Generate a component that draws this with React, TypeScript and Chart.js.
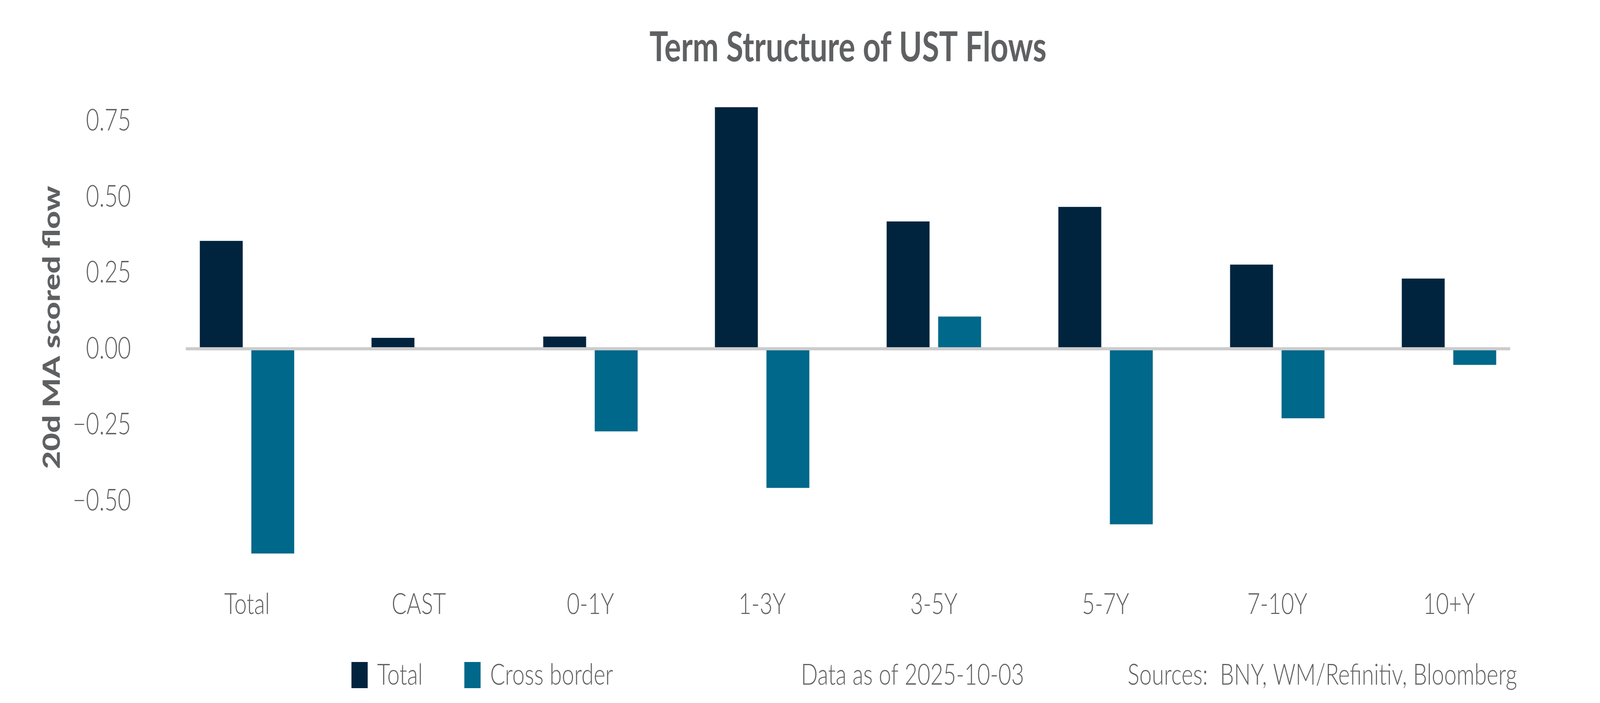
import React, { useEffect, useRef } from 'react';
import { Chart, registerables } from 'chart.js';

Chart.register(...registerables);

const categories = ['Total', 'CAST', '0-1Y', '1-3Y', '3-5Y', '5-7Y', '7-10Y', '10+Y'];
const totalFlow = [0.355, 0.036, 0.04, 0.795, 0.419, 0.467, 0.277, 0.231];
const crossBorderFlow = [-0.674, null, -0.272, -0.458, 0.106, -0.578, -0.229, -0.053];
const yTicks = [-0.5, -0.25, 0, 0.25, 0.5, 0.75];
const seriesLabels = ['Total', 'Cross border'];
const seriesColors = ['#00243e', '#00688a'];
const titleText = 'Term Structure of UST Flows';
const yTitleText = '20d MA scored flow';
const dataNote = 'Data as of 2025-10-03';
const sourceNote = 'Sources:  BNY, WM/Refinitiv, Bloomberg';

const GRAY = '#5f6062';
const FONT = 'Lato';

const fmtTick = (v: number) => {
  const s = Math.abs(v).toFixed(2);
  return v < 0 ? '\u2212' + s : s;
};

// zero line + bottom legend / notes row
const extrasPlugin = {
  id: 'extras',
  afterDatasetsDraw(chart: any) {
    const { ctx, chartArea, scales } = chart;
    const y0 = scales.y.getPixelForValue(0);
    ctx.save();
    ctx.strokeStyle = '#cccccc';
    ctx.lineWidth = 8;
    ctx.beginPath();
    ctx.moveTo(chartArea.left + 83, y0);
    ctx.lineTo(chartArea.right - 83, y0);
    ctx.stroke();
    ctx.restore();
  },
  afterDraw(chart: any) {
    const { ctx } = chart;
    const baseline = 1753;
    const legendX = [1186, 1567];
    ctx.save();
    ctx.font = `300 75px ${FONT}`;
    ctx.textBaseline = 'alphabetic';
    ctx.textAlign = 'left';
    seriesLabels.forEach((label, i) => {
      ctx.fillStyle = seriesColors[i];
      ctx.fillRect(legendX[i], 1695, 55, 67);
      ctx.fillStyle = GRAY;
      ctx.fillText(label, legendX[i] + 87, baseline);
    });
    ctx.fillStyle = GRAY;
    ctx.fillText(dataNote, 2703, baseline);
    ctx.textAlign = 'right';
    ctx.fillText(sourceNote, 5120, baseline);
    ctx.restore();
  },
};

export default function App() {
  const canvasRef = useRef<HTMLCanvasElement>(null);
  const chartRef = useRef<Chart | null>(null);

  useEffect(() => {
    document.body.style.margin = '0';
    document.body.style.overflow = 'hidden';
    if (!canvasRef.current) return;
    const ctx = canvasRef.current.getContext('2d');
    if (!ctx) return;
    if (chartRef.current) chartRef.current.destroy();
    chartRef.current = new Chart(ctx, {
      type: 'bar',
      data: {
        labels: categories,
        datasets: [
          {
            label: seriesLabels[0],
            data: totalFlow,
            backgroundColor: seriesColors[0],
            categoryPercentage: 0.6,
            barPercentage: 0.833,
          },
          {
            label: seriesLabels[1],
            data: crossBorderFlow,
            backgroundColor: seriesColors[1],
            categoryPercentage: 0.6,
            barPercentage: 0.833,
          },
        ],
      },
      options: {
        responsive: false,
        animation: false,
        devicePixelRatio: 1,
        layout: { padding: { left: 0, right: 220, top: 0, bottom: 0 } },
        plugins: {
          legend: { display: false },
          tooltip: { enabled: false },
          title: {
            display: true,
            text: titleText,
            fullSize: false,
            color: GRAY,
            font: { family: FONT, size: 105, weight: 'bold' },
            padding: { top: 60, bottom: 38 },
          },
        },
        scales: {
          x: {
            grid: { display: false },
            border: { display: false },
            ticks: {
              padding: 42,
              color: GRAY,
              font: { family: FONT, size: 75, weight: '300' },
            },
            afterFit: (s: any) => {
              s.height = 347;
            },
          },
          y: {
            min: -0.72,
            max: 0.86,
            grid: { display: false },
            border: { display: false },
            afterBuildTicks: (s: any) => {
              s.ticks = yTicks.map((v) => ({ value: v }));
            },
            afterFit: (s: any) => {
              s.width = 544;
            },
            ticks: {
              padding: 94,
              color: GRAY,
              font: { family: FONT, size: 77, weight: '300' },
              callback: (v: any) => fmtTick(Number(v)),
            },
            title: {
              display: true,
              text: yTitleText,
              color: GRAY,
              font: { family: FONT, size: 80, weight: '900' },
              padding: { top: 128, bottom: 0 },
            },
          },
        },
      },
      plugins: [extrasPlugin],
    });
    return () => {
      if (chartRef.current) chartRef.current.destroy();
      chartRef.current = null;
    };
  }, []);

  return (
    <div style={{ position: 'fixed', left: 0, top: 0, width: '100vw', height: '100vh', background: '#ffffff' }}>
      <canvas
        ref={canvasRef}
        width={5400}
        height={1800}
        style={{ display: 'block', width: '100vw', height: '100vh' }}
      ></canvas>
    </div>
  );
}
